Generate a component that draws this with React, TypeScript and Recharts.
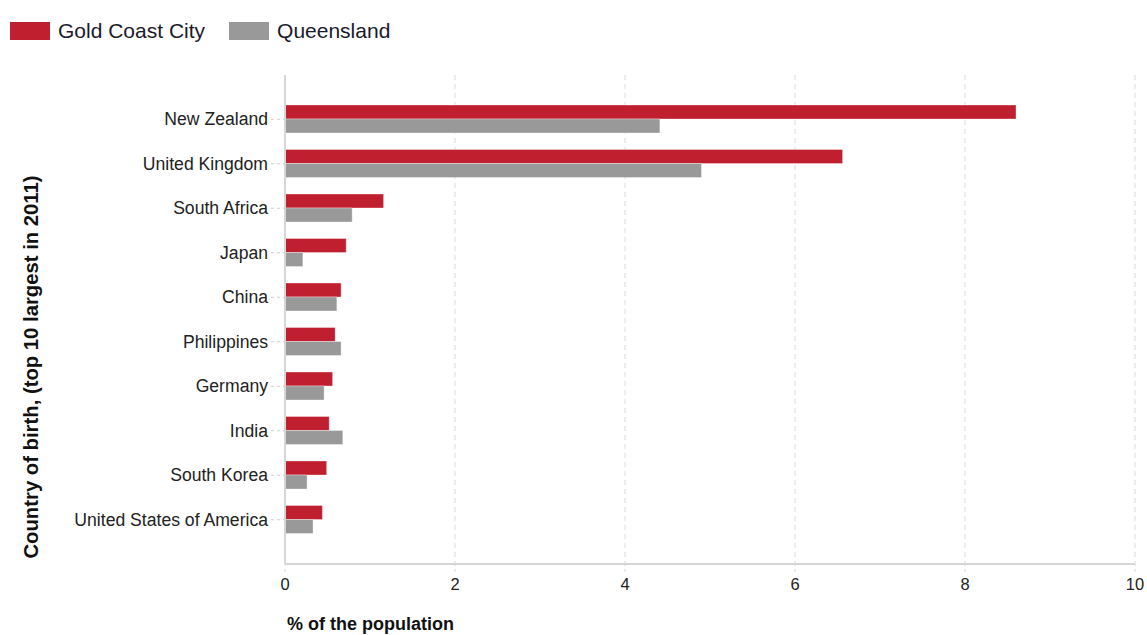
import React from 'react';
import { BarChart, Bar, XAxis, YAxis, CartesianGrid } from 'recharts';

const countries = [
    'New Zealand',
    'United Kingdom',
    'South Africa',
    'Japan',
    'China',
    'Philippines',
    'Germany',
    'India',
    'South Korea',
    'United States of America',
];
const goldCoast = [8.6, 6.56, 1.16, 0.72, 0.66, 0.59, 0.56, 0.52, 0.49, 0.44];
const queensland = [4.41, 4.9, 0.79, 0.21, 0.61, 0.66, 0.46, 0.68, 0.26, 0.33];
const xTicks = [0, 2, 4, 6, 8, 10];

const SERIES = [
    { key: 'goldCoast', name: 'Gold Coast City', color: '#c01f2f' },
    { key: 'queensland', name: 'Queensland', color: '#999999' },
];

const FONT = '"Liberation Sans", Arial, sans-serif';

const data = countries.map((c, i) => ({ country: c, goldCoast: goldCoast[i], queensland: queensland[i] }));

const App: React.FC = () => {
    return (
        <div style={{ position: 'absolute', left: 0, top: 0, width: 1147, height: 635, background: '#fff', fontFamily: FONT }}>
            {/* legend */}
            <div style={{ position: 'absolute', left: 10, top: 19, display: 'flex', alignItems: 'center', fontSize: 21, color: '#1a1a2a' }}>
                {SERIES.map((s) => (
                    <div key={s.key} style={{ display: 'flex', alignItems: 'center', marginRight: 24 }}>
                        <span style={{ display: 'inline-block', width: 40, height: 18, background: s.color, marginRight: 8 }} />
                        <span>{s.name}</span>
                    </div>
                ))}
            </div>

            <BarChart
                width={1147}
                height={635}
                data={data}
                layout="vertical"
                barSize={14}
                barGap={0}
                margin={{ top: 75, right: 12, bottom: 41, left: 0 }}
                style={{ fontFamily: FONT }}
            >
                <CartesianGrid horizontal={false} stroke="#dcdcdc" strokeDasharray="5 4" />
                <XAxis
                    type="number"
                    domain={[0, 10]}
                    ticks={xTicks}
                    height={30}
                    axisLine={{ stroke: '#d6d6d6', strokeWidth: 2 }}
                    tickLine={{ stroke: '#d6d6d6', strokeDasharray: '3 3' }}
                    tickSize={8}
                    tickMargin={6}
                    tick={{ fill: '#222', fontSize: 16.5 }}
                />
                <YAxis
                    type="category"
                    dataKey="country"
                    width={285}
                    padding={{ top: 22, bottom: 22 }}
                    axisLine={{ stroke: '#d6d6d6', strokeWidth: 2 }}
                    tickLine={{ stroke: '#cfcfcf', strokeDasharray: '3 3' }}
                    tickSize={14}
                    tickMargin={3}
                    tick={{ fill: '#222', fontSize: 17.6 }}
                    interval={0}
                />
                {SERIES.map((s) => (
                    <Bar
                        key={s.key}
                        dataKey={s.key}
                        name={s.name}
                        fill={s.color}
                        stroke="#ffffff"
                        strokeOpacity={0.35}
                        isAnimationActive={false}
                    />
                ))}
                <text
                    x={38}
                    y={367}
                    transform="rotate(-90, 38, 367)"
                    textAnchor="middle"
                    fontSize={20.3}
                    fontWeight="bold"
                    fill="#111"
                >
                    Country of birth, (top 10 largest in 2011)
                </text>
                <text x={287} y={630} fontSize={18} fontWeight="bold" fill="#111">
                    % of the population
                </text>
            </BarChart>
        </div>
    );
};

export default App;
